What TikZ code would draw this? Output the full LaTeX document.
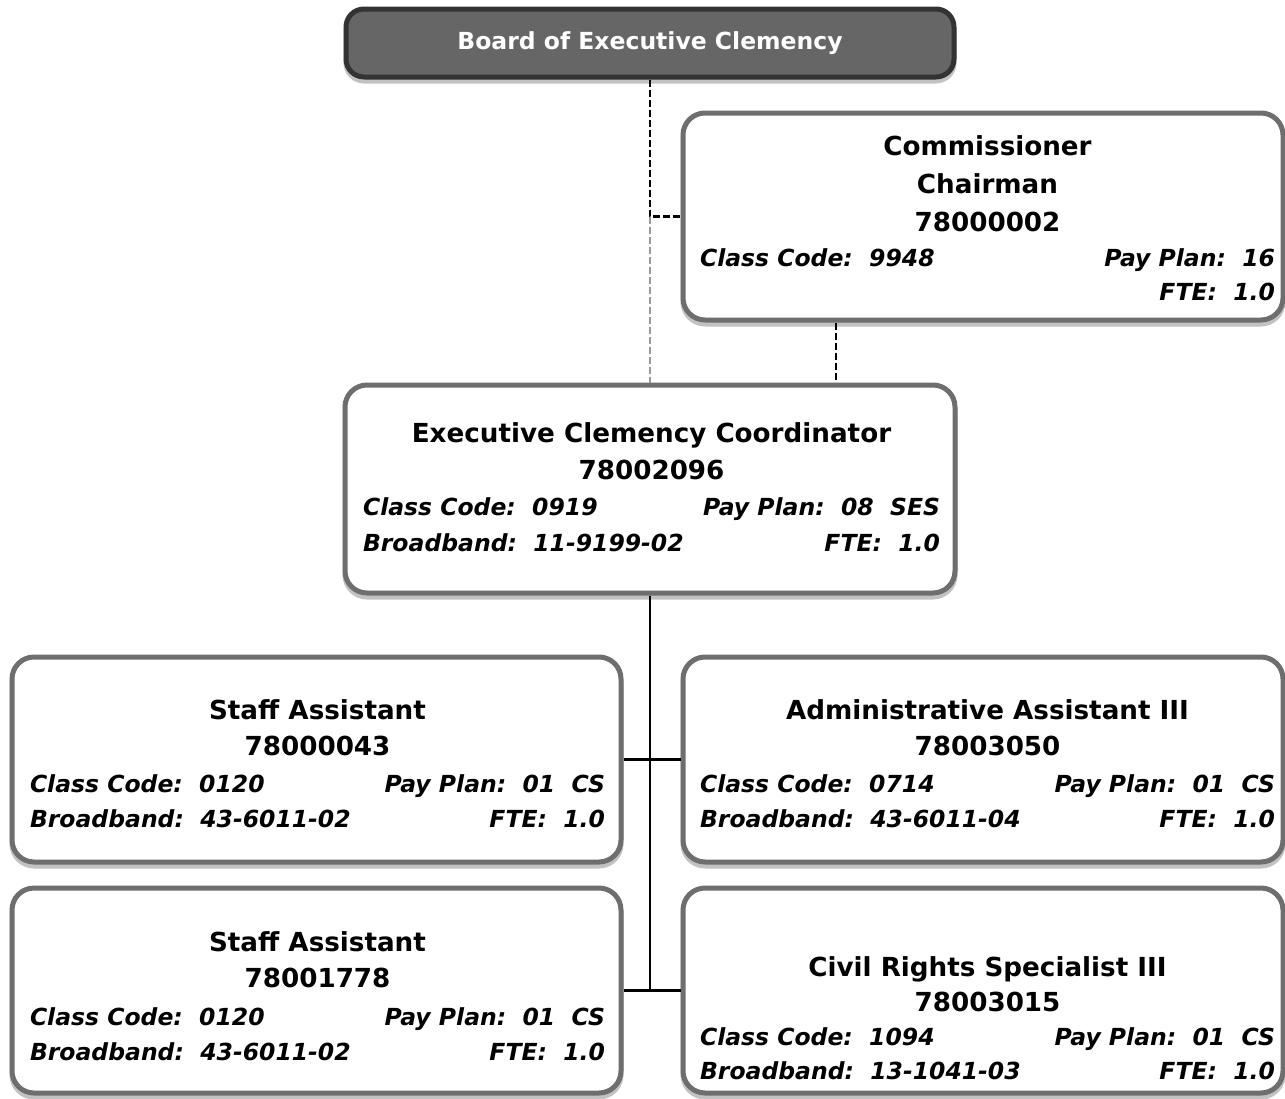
\documentclass[tikz,border=0pt]{standalone}
\usepackage{fontspec}
\setmainfont{DejaVu Sans}[ItalicFont={DejaVu Sans Oblique},BoldItalicFont={DejaVu Sans Bold Oblique}]
\usetikzlibrary{positioning,shadows}

\definecolor{boxgray}{HTML}{6E6E6E}
\definecolor{headfill}{HTML}{666666}
\definecolor{headline}{HTML}{333333}
\definecolor{shadegray}{HTML}{C2C2C2}
\definecolor{linkgray}{HTML}{9A9A9A}

\newcommand{\jobtitle}[2][36.5]{{\fontsize{26.2}{#1}\selectfont\spaceskip=0pt\xspaceskip=0pt\bfseries\hbox to\linewidth{\hfil #2\hfil}\par}}
\newcommand{\jobinfo}[3][35]{{\fontsize{23.5}{#1}\selectfont\spaceskip=0pt\xspaceskip=0pt\bfseries\itshape\hbox to\linewidth{#2\hfill #3}\par}}

\begin{document}
\begin{tikzpicture}[x=1pt, y=-1pt]
    \tikzstyle{box_style} = [draw=boxgray, line width=5pt, fill=white, rounded corners=22pt, inner sep=0pt,
        drop shadow={shadow xshift=0pt, shadow yshift=-4pt, fill=shadegray, draw=shadegray, line width=5pt, opacity=1}]
    \tikzstyle{head_style} = [box_style, draw=headline, fill=headfill, rounded corners=18pt, text=white,
        font=\fontsize{23.5}{28}\selectfont\bfseries]
    \tikzstyle{text_style} = [inner sep=0pt, text width=575pt, align=center]
    \tikzstyle{edge_style} = [draw=black, line width=2.5pt]
    \tikzstyle{dash_style} = [draw=black, line width=2.5pt, dash pattern=on 7pt off 3pt]
    \tikzstyle{dash_gray} = [draw=linkgray, line width=2pt, dash pattern=on 7pt off 3pt]
    \useasboundingbox (0,0) rectangle (1285,1098);

    \node[head_style, minimum width=608pt, minimum height=68pt] (board) at (650,43) {Board of Executive Clemency};
    \node[box_style, minimum width=600pt, minimum height=207pt] (comm) at (983,216.5) {};
    \node[box_style, minimum width=610pt, minimum height=208pt] (coord) at (650,489) {};
    \node[box_style, minimum width=609pt, minimum height=205pt] (staff1) at (316.5,759.5) {};
    \node[box_style, minimum width=600pt, minimum height=205pt] (admin) at (983,759.5) {};
    \node[box_style, minimum width=609pt, minimum height=205pt] (staff2) at (316.5,990.5) {};
    \node[box_style, minimum width=600pt, minimum height=205pt] (civil) at (983,990.5) {};

    \node[text_style, below=25pt of comm.north, xshift=4.5pt] (comm_txt) {%
        \jobtitle{Commissioner}\jobtitle[38]{Chairman}\jobtitle[38]{78000002}%
        \jobinfo[35]{Class Code:~~9948}{Pay Plan:~~16}\jobinfo[34]{}{FTE:~~1.0}};
    \node[text_style, below=40pt of coord.north, xshift=1.5pt, text width=577pt] (coord_txt) {%
        \jobtitle{Executive Clemency Coordinator}\jobtitle[37]{78002096}%
        \jobinfo[36]{Class Code:~~0919}{Pay Plan:~~08~~SES}\jobinfo[36]{Broadband:~~11-9199-02}{FTE:~~1.0}};
    \node[text_style, below=44.5pt of staff1.north, xshift=1pt] (staff1_txt) {%
        \jobtitle{Staff Assistant}\jobtitle[36]{78000043}%
        \jobinfo[37]{Class Code:~~0120}{Pay Plan:~~01~~CS}\jobinfo{Broadband:~~43-6011-02}{FTE:~~1.0}};
    \node[text_style, below=44.5pt of admin.north, xshift=4.5pt] (admin_txt) {%
        \jobtitle{Administrative Assistant III}\jobtitle[36]{78003050}%
        \jobinfo[37]{Class Code:~~0714}{Pay Plan:~~01~~CS}\jobinfo{Broadband:~~43-6011-04}{FTE:~~1.0}};
    \node[text_style, below=45.5pt of staff2.north, xshift=1pt] (staff2_txt) {%
        \jobtitle{Staff Assistant}\jobtitle[36]{78001778}%
        \jobinfo[38]{Class Code:~~0120}{Pay Plan:~~01~~CS}\jobinfo{Broadband:~~43-6011-02}{FTE:~~1.0}};
    \node[text_style, below=70.5pt of civil.north, xshift=4.5pt] (civil_txt) {%
        \jobtitle{Civil Rights Specialist III}\jobtitle[35]{78003015}%
        \jobinfo[34]{Class Code:~~1094}{Pay Plan:~~01~~CS}\jobinfo[34]{Broadband:~~13-1041-03}{FTE:~~1.0}};

    % dotted-line reporting
    \coordinate (bend) at (board.south |- comm.west);
    \coordinate (chair) at (836,0);
    \draw[dash_style] (board.south) -- (bend) -- (comm.west);
    \draw[dash_gray] (bend) -- (coord.north);
    \draw[dash_style] (comm.south -| chair) -- (coord.north -| chair);

    % direct reports
    \draw[edge_style] (coord.south) -- (coord.south |- staff2.east);
    \draw[edge_style] (staff1.east) -- (admin.west);
    \draw[edge_style] (staff2.east) -- (civil.west);
\end{tikzpicture}
\end{document}
